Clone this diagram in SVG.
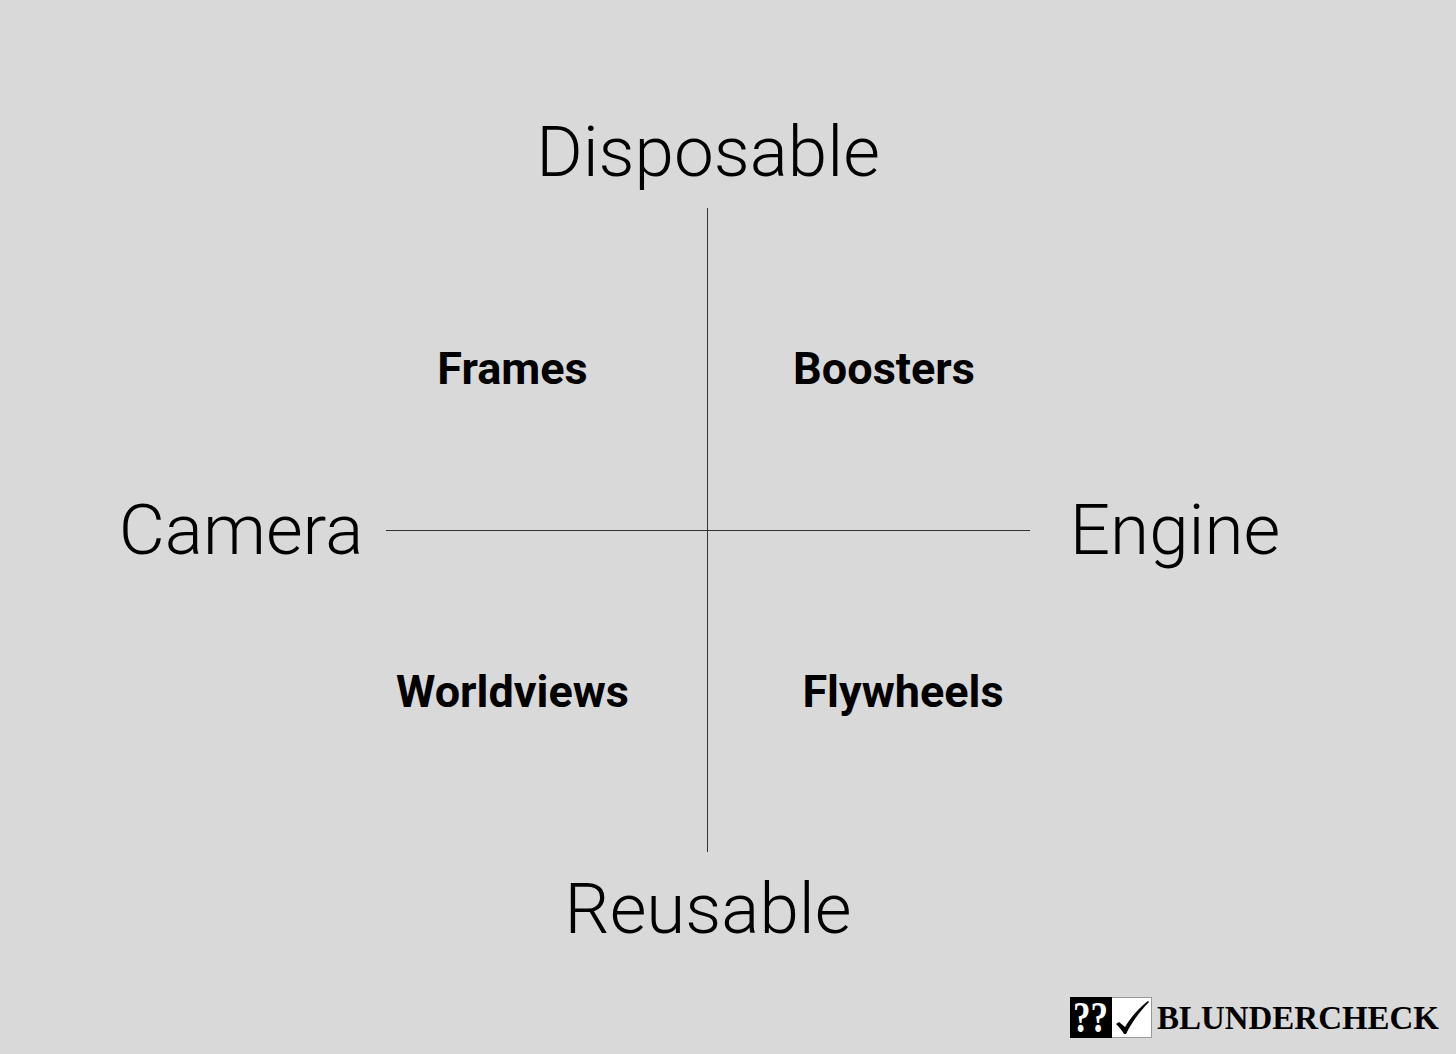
<svg xmlns="http://www.w3.org/2000/svg" width="1456" height="1054" viewBox="0 0 1456 1054">
<style>
.axis{font-family:Roboto,sans-serif;font-weight:300;font-size:71px;fill:#000;text-anchor:middle}
.q{font-family:Roboto,sans-serif;font-weight:700;font-size:45px;fill:#000;text-anchor:middle}
.l{stroke:#333;stroke-width:1;fill:none}
</style>
<rect width="1456" height="1054" fill="#d9d9d9"/>
<g id="connectors"><line class="l" x1="707.500" y1="208" x2="707.500" y2="852"/><line class="l" x1="386" y1="530.500" x2="1030" y2="530.500"/></g>
<g id="disposable"><text class="axis" x="708" y="176">Disposable</text></g>
<g id="reusable"><text class="axis" x="708" y="933">Reusable</text></g>
<g id="camera"><text class="axis" x="241" y="554">Camera</text></g>
<g id="engine"><text class="axis" x="1175" y="554">Engine</text></g>
<g id="frames"><text class="q" x="512.500" y="384">Frames</text></g>
<g id="boosters"><text class="q" x="884" y="384">Boosters</text></g>
<g id="worldviews"><text class="q" x="512.500" y="707">Worldviews</text></g>
<g id="flywheels"><text class="q" x="903" y="707">Flywheels</text></g>
<g id="logo">
<rect x="1111.500" y="997.500" width="40" height="40" fill="#fff" stroke="#999"/>
<rect x="1070" y="997" width="42" height="41" fill="#000"/>
<text x="1073" y="1032" font-family="Liberation Serif,serif" font-weight="700" font-size="44" fill="#fff" textLength="35" lengthAdjust="spacingAndGlyphs">??</text>
<path d="M1116 1024l3-2 6 5c6-10 13-18 23-26l1 1c-9 9-17 20-23 32l-2 0c-2-4-5-7-8-10z" fill="#000"/>
<text x="1157" y="1029" font-family="Liberation Serif,serif" font-weight="700" font-size="33" fill="#000" textLength="282" lengthAdjust="spacingAndGlyphs">BLUNDERCHECK</text>
</g>
</svg>
